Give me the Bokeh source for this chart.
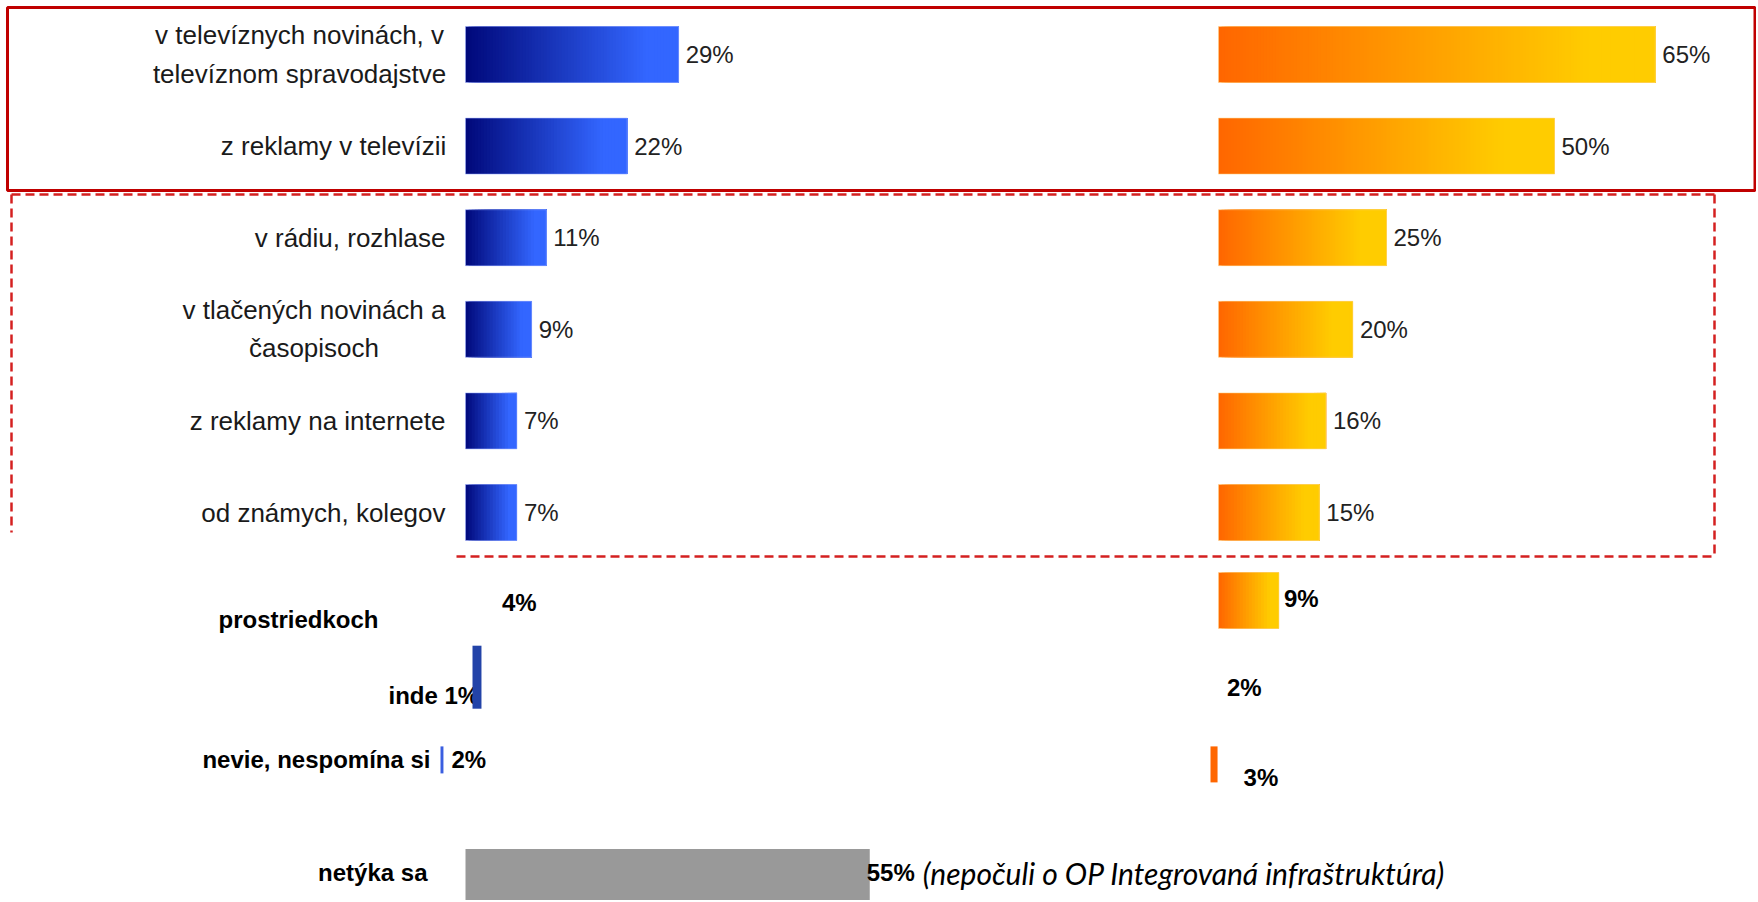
import unicodedata
from bokeh.plotting import figure
from bokeh.models import Range1d
from bokeh.core.properties import value
from bokeh.embed import file_html
from bokeh.resources import INLINE

# ---------------- data ----------------
categories = [
    "v televíznych novinách, v\ntelevíznom spravodajstve",
    "z reklamy v televízii",
    "v rádiu, rozhlase",
    "v tlačených novinách a\nčasopisoch",
    "z reklamy na internete",
    "od známych, kolegov",
    "prostriedkoch",
    "inde",
    "nevie, nespomína si",
    "netýka sa",
]
blue_values = [29, 22, 11, 9, 7, 7, 4, 1, 2, 55]
orange_values = [65, 50, 25, 20, 16, 15, 9, 2, 3, None]
note_text = "(nepočuli o OP Integrovaná infraštruktúra)"

# ---------------- layout ----------------
W, H = 1756, 900
M = 0                      # offset of the figure on the page
BLUE_ZERO = 465 - M
BLUE_PX = 7.35             # px per percent (blue / grey)
ORANGE_ZERO = 1218 - M
ORANGE_PX = 6.72           # px per percent (orange)
ROW0 = 54 - M
ROW_PX = 91.6
row_y = [0, 1, 2, 3, 4, 5, 6, 7, 7.75, 9]

blue_style = ["grad"] * 6 + [None, "#2343a8", "#3a5ee0", "#999999"]
blue_h = [56] * 7 + [63, 27, 58]
blue_dy = [0] * 7 + [-18.5, -4.5, -1]
blue_shift = [0] * 7 + [7, -25, 0]
blue_wscale = [1] * 7 + [1.22, 0.2, 1]
blue_gap = [7] * 7 + [None, 8, -3]
blue_lab_dy = [0] * 6 + [-2, 0, -5, -6]

orange_style = ["grad"] * 7 + [None, "#ff6600", None]
orange_h = [56] * 8 + [36, 56]
orange_dy = [0] * 6 + [-3.6, 0, 0, 0]
orange_shift = [0] * 8 + [-8, 0]
orange_wscale = [1] * 8 + [0.35, 1]
orange_gap = [7] * 6 + [5, -5, 26, None]
orange_lab_dy = [0] * 6 + [-6, -8, 13, 0]

cat_off = [-20] * 6 + [-87, -77, -35, -38]
cat_align = ["block"] * 6 + ["right", "left", "right", "right"]
cat_dy = [0] * 6 + [15, 0, -5, -6]

FONT = "Liberation Sans"
LAB_SIZE = 26
VAL_SIZE = 24
BOLD_SIZE = 24

ARIAL_W = dict(a=556, b=556, c=500, d=556, e=556, f=278, g=556, h=556, i=222, j=222,
               k=500, l=222, m=833, n=556, o=556, p=556, q=556, r=333, s=500, t=278,
               u=556, v=500, w=722, x=500, y=500, z=500)
ARIAL_W.update({" ": 278, ",": 278, ".": 278, "%": 889})


def text_w(s, size):
    tot = 0
    for ch in s:
        base = unicodedata.normalize("NFD", ch)[0]
        tot += ARIAL_W.get(base, 556)
    return tot * size / 1000.0


def mix(c0, c1, t, stop=0.85):
    u = min(max(t / stop, 0.0), 1.0)
    return "#%02x%02x%02x" % tuple(int(round(a + (b - a) * u)) for a, b in zip(c0, c1))


def row_px(i):
    return ROW0 + row_y[i] * ROW_PX


p = figure(width=W, height=H, output_backend="svg", toolbar_location=None,
           x_range=Range1d(0, W), y_range=Range1d(H, 0), min_border=0)
p.extra_x_ranges = {
    "blue": Range1d(-BLUE_ZERO / BLUE_PX, (W - BLUE_ZERO) / BLUE_PX),
    "orange": Range1d(-ORANGE_ZERO / ORANGE_PX, (W - ORANGE_ZERO) / ORANGE_PX),
}
p.extra_y_ranges = {"rows": Range1d((H - ROW0) / ROW_PX, -ROW0 / ROW_PX)}
p.xaxis.visible = False
p.yaxis.visible = False
p.grid.visible = False
p.outline_line_color = None
p.background_fill_color = "white"
p.border_fill_color = "white"


def add_bars(values, styles, heights, dys, shifts, wscales, c0, c1, px, xr, edge):
    seg = dict(left=[], right=[], top=[], bottom=[], color=[])
    out = dict(left=[], right=[], top=[], bottom=[])
    for i, v in enumerate(values):
        st = styles[i]
        if v is None or st is None:
            continue
        yc = row_y[i] + dys[i] / ROW_PX
        h = heights[i] / ROW_PX
        x0 = shifts[i] / px
        w = v * wscales[i]
        if st == "grad":
            n = max(8, int(w * px / 3))
            for k in range(n):
                # each slice runs to the end of the bar; later slices paint over
                seg["left"].append(x0 + w * k / n); seg["right"].append(x0 + w)
                seg["top"].append(yc - h / 2); seg["bottom"].append(yc + h / 2)
                seg["color"].append(mix(c0, c1, (k + 0.5) / n))
            out["left"].append(x0); out["right"].append(x0 + w)
            out["top"].append(yc - h / 2); out["bottom"].append(yc + h / 2)
        else:
            seg["left"].append(x0); seg["right"].append(x0 + w)
            seg["top"].append(yc - h / 2); seg["bottom"].append(yc + h / 2)
            seg["color"].append(st)
    p.quad(left="left", right="right", top="top", bottom="bottom", fill_color="color",
           line_color=None, source=seg, x_range_name=xr, y_range_name="rows")
    if out["left"]:
        p.quad(left="left", right="right", top="top", bottom="bottom", fill_color=None,
               line_color=edge, line_alpha=0.55, line_width=1, source=out,
               x_range_name=xr, y_range_name="rows")


# ---------------- category labels (drawn before bars) ----------------
for i, cat in enumerate(categories):
    y = row_px(i) + cat_dy[i]
    if cat_align[i] == "block":
        lines = cat.split("\n")
        maxw = max(text_w(s, LAB_SIZE) for s in lines)
        x = BLUE_ZERO + cat_off[i] - maxw / 2
        p.text(x=[x], y=[y], text=[cat], text_align="center", text_baseline="middle",
               text_font=value(FONT), text_font_size=f"{LAB_SIZE}px", text_color="#1a1a1a",
               text_line_height=1.27)
    else:
        txt = cat if cat != "inde" else f"{cat} {blue_values[i]}%"
        p.text(x=[BLUE_ZERO + cat_off[i]], y=[y], text=[txt], text_align=cat_align[i],
               text_baseline="middle", text_font=value(FONT), text_font_style="bold",
               text_font_size=f"{BOLD_SIZE}px", text_color="#000000")

# ---------------- bars ----------------
add_bars(blue_values, blue_style, blue_h, blue_dy, blue_shift, blue_wscale,
         (0, 8, 122), (51, 102, 255), BLUE_PX, "blue", "#9fb0ff")
add_bars(orange_values, orange_style, orange_h, orange_dy, orange_shift, orange_wscale,
         (255, 102, 0), (255, 204, 0), ORANGE_PX, "orange", "#ffd58a")

# ---------------- value labels ----------------
def add_values(values, gaps, dys, shifts, wscales, zero, px, bold_from):
    for i, v in enumerate(values):
        if v is None or gaps[i] is None:
            continue
        end = shifts[i] + v * wscales[i] * px
        x = zero + end + gaps[i]
        y = row_px(i) + dys[i]
        bold = i >= bold_from
        p.text(x=[x], y=[y], text=[f"{v}%"], text_align="left", text_baseline="middle",
               text_font=value(FONT), text_font_style="bold" if bold else "normal",
               text_font_size=f"{BOLD_SIZE if bold else VAL_SIZE}px",
               text_color="#000000" if bold else "#222222")


add_values(blue_values, blue_gap, blue_lab_dy, blue_shift, blue_wscale, BLUE_ZERO, BLUE_PX, 6)
add_values(orange_values, orange_gap, orange_lab_dy, orange_shift, orange_wscale,
           ORANGE_ZERO, ORANGE_PX, 6)

# note after the "netýka sa" value
last = len(blue_values) - 1
note_x = BLUE_ZERO + blue_values[last] * BLUE_PX + blue_gap[last] \
    + text_w(f"{blue_values[last]}%", BOLD_SIZE) + 8
p.text(x=[note_x], y=[row_px(last) + blue_lab_dy[last]], text=[note_text],
       text_align="left", text_baseline="middle", text_font=value("Lato"),
       text_font_style="italic", text_font_size="30px", text_color="#000000")

# ---------------- frames ----------------
p.quad(left=[7 - M], right=[min(1756 - M, W - 1.5)], top=[7 - M], bottom=[190 - M],
       fill_color=None, line_color="#c00000", line_width=3)
p.multi_line(xs=[[11 - M, 11 - M], [11 - M, 1714 - M], [1714 - M, 1714 - M], [456 - M, 1714 - M]],
             ys=[[194 - M, 532 - M], [194 - M, 194 - M], [194 - M, 556 - M], [556 - M, 556 - M]],
             line_color="#d42020", line_width=2.5, line_dash="9 5")

open("out.html", "w").write(file_html(p, INLINE))
